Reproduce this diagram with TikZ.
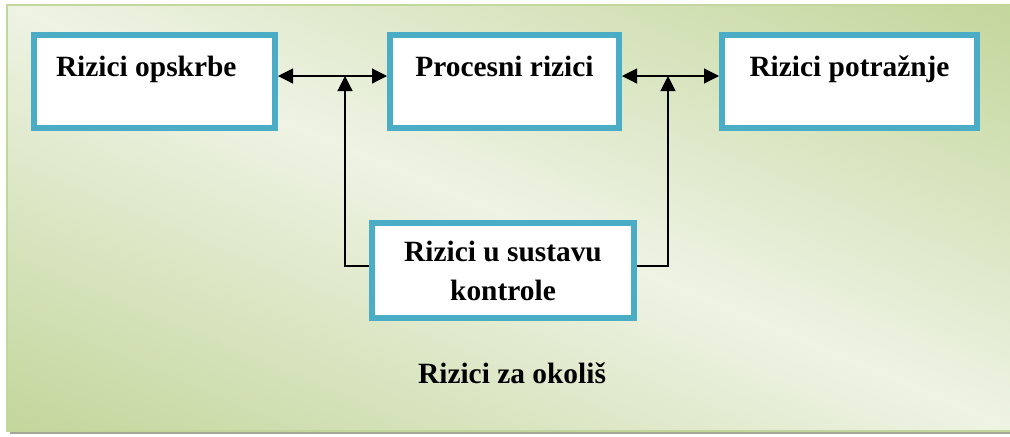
\documentclass[tikz,border=0pt]{standalone}
\usepackage{fontspec}
\setmainfont{Liberation Serif}
\usetikzlibrary{arrows.meta}
\definecolor{frameGreen}{HTML}{C3D69B}
\definecolor{paleGreen}{HTML}{EEF3E4}
\definecolor{boxBlue}{HTML}{4BACC6}
\definecolor{shadowGrey}{HTML}{A3A795}
\tikzset{
  riskfont/.style={font=\fontsize{14.7pt}{19.5pt}\selectfont\bfseries},
  riskbox/.style={riskfont, draw=boxBlue, line width=3pt, fill=white, inner sep=0pt, align=center},
  toptext/.style={text height=10pt, text depth=15.5pt},
  link/.style={line width=0.6pt, -{Triangle[length=7.5pt,width=7.5pt]}},
  biglink/.style={line width=0.6pt,
    {Triangle[length=7.5pt,width=7.5pt]}-{Triangle[length=7.5pt,width=7.5pt]}}
}
\begin{document}
\begin{tikzpicture}[x=0.5pt, y=-0.5pt]
      \useasboundingbox (0,0) rectangle (1010,436);
      \fill[shadowGrey] (10,8) rectangle (1020,434);
      \begin{scope}
        \clip (7,5) rectangle (1020,431);
        \begin{scope}[transform canvas={shift={(513.5,218)}, xslant=-2.378}]
          \shade[left color=frameGreen, right color=frameGreen, middle color=paleGreen]
            (-1013,-213) rectangle (1013,213);
        \end{scope}
      \end{scope}
      \draw[frameGreen, line width=1pt] (7,5) rectangle (1020,431);
      \draw
        (154.5,81.5) node[riskbox, toptext, minimum width=120.5pt, minimum height=46.5pt,
          text width=98.5pt, align=flush left, inner xsep=11pt] (opskrbe) {Rizici opskrbe}
        (504.5,81.5) node[riskbox, toptext, minimum width=114.5pt, minimum height=46.5pt] (procesni) {Procesni rizici}
        (849.5,81.5) node[riskbox, toptext, minimum width=127.5pt, minimum height=46.5pt] (potraznje) {Rizici potražnje}
        (503,270.5) node[riskbox, minimum width=131pt, minimum height=47.5pt] (kontrola) {Rizici u sustavu\\kontrole};
      \node[riskfont, anchor=base] (okolis) at (512,383) {Rizici za okoliš};
      \coordinate (j1) at (345,76);
      \coordinate (j2) at (668,76);
      \begin{scope}
        \draw[biglink] ([yshift=2.75pt]opskrbe.east) to ([yshift=2.75pt]procesni.west);
        \draw[biglink] ([yshift=2.75pt]procesni.east) to ([yshift=2.75pt]potraznje.west);
        \draw[link] ([yshift=2.25pt]kontrola.west) -| (j1);
        \draw[link] ([yshift=2.25pt]kontrola.east) -| (j2);
      \end{scope}
    \end{tikzpicture}
\end{document}
